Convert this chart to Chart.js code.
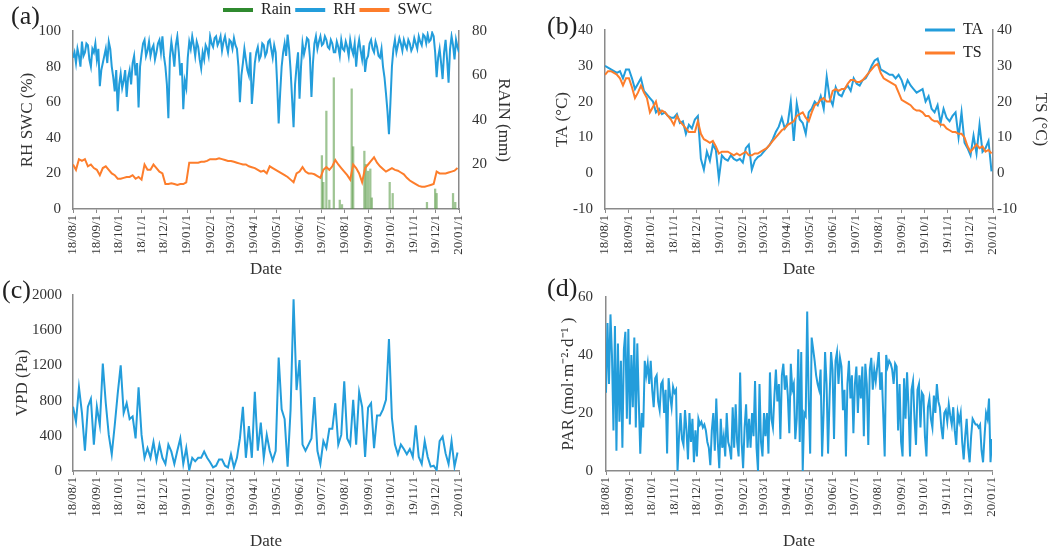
<!DOCTYPE html>
<html>
<head>
<meta charset="utf-8">
<script src="https://cdn.jsdelivr.net/npm/chart.js@4.4.1/dist/chart.umd.min.js"></script>
<style>
  body { margin: 0; background: #fff; width: 1052px; height: 551px; overflow: hidden; position: relative; }
  .panel { position: absolute; }
</style>
</head>
<body>
<div class="panel" style="left:0;top:0;width:530px;height:281px"><canvas id="chartA"></canvas></div>
<div class="panel" style="left:530px;top:0;width:522px;height:281px"><canvas id="chartB"></canvas></div>
<div class="panel" style="left:0;top:275px;width:530px;height:276px"><canvas id="chartC"></canvas></div>
<div class="panel" style="left:530px;top:275px;width:522px;height:276px"><canvas id="chartD"></canvas></div>
<script>
// month ticks on the date axis
var tickLabels = ['18/08/1', '18/09/1', '18/10/1', '18/11/1', '18/12/1', '19/01/1', '19/02/1', '19/03/1', '19/04/1',
  '19/05/1', '19/06/1', '19/07/1', '19/08/1', '19/09/1', '19/10/1', '19/11/1', '19/12/1', '20/01/1'];

// RH and PAR jump a lot from day to day, read every 2 days from 18/08/1
var fineStep = 2;
var rh = [85, 88, 82, 90, 86, 80, 94, 86, 88, 93, 92, 84, 80, 90, 88, 93, 84, 90, 69, 78,
  82, 86, 90, 82, 94, 90, 80, 74, 66, 78, 55, 70, 76, 68, 72, 78, 63, 74, 78, 70,
  82, 86, 75, 82, 57, 80, 87, 93, 95, 86, 89, 94, 86, 90, 92, 84, 88, 93, 95, 88,
  97, 86, 80, 70, 51, 85, 94, 88, 80, 92, 97, 88, 75, 82, 56, 72, 68, 85, 94, 90,
  97, 92, 86, 94, 91, 84, 79, 88, 84, 92, 90, 86, 97, 93, 91, 96, 97, 92, 94, 97,
  89, 94, 97, 92, 88, 95, 94, 90, 96, 92, 90, 80, 60, 75, 82, 90, 84, 78, 75, 88,
  59, 70, 82, 88, 91, 84, 86, 93, 92, 86, 88, 94, 95, 90, 85, 92, 88, 70, 48, 65,
  80, 88, 93, 86, 98, 90, 78, 62, 46, 70, 80, 88, 62, 80, 93, 87, 91, 96, 95, 85,
  63, 82, 93, 97, 90, 94, 97, 92, 93, 97, 95, 91, 90, 95, 93, 88, 88, 94, 91, 86,
  95, 90, 89, 94, 91, 86, 95, 90, 87, 93, 80, 90, 95, 89, 84, 92, 77, 84, 86, 93,
  95, 90, 88, 94, 91, 86, 85, 90, 80, 74, 65, 55, 42, 60, 80, 90, 95, 88, 92, 96,
  93, 89, 95, 92, 90, 95, 93, 89, 91, 96, 93, 90, 97, 94, 92, 98, 97, 93, 98, 94,
  95, 99, 97, 88, 74, 85, 90, 82, 73, 88, 95, 84, 71, 90, 97, 92, 84, 95, 91, 88];
var par = [27, 51, 30, 54, 40, 14, 50, 7, 44, 17, 38, 8, 42, 48, 18, 49, 16, 40, 22, 46,
  15, 44, 24, 6, 20, 15, 38, 33, 37, 30, 38, 28, 22, 32, 33, 24, 21, 30, 31, 20,
  28, 6, 32, 26, 22, 29, 27, 28, 0, 12, 20, 11, 9, 21, 14, 4, 20, 10, 18, 3,
  14, 5, 18, 16, 17, 15, 16, 14, 10, 8, 2, 14, 20, 7, 25, 10, 1, 18, 8, 12,
  5, 20, 10, 8, 4, 22, 8, 23, 10, 5, 34, 10, 1, 15, 23, 8, 18, 8, 20, 12,
  31, 8, 0, 30, 10, 5, 20, 12, 20, 6, 34, 18, 15, 26, 35, 24, 30, 11, 33, 37,
  28, 33, 26, 13, 37, 28, 30, 11, 18, 42, 10, 41, 0, 20, 19, 55, 25, 6, 46, 42,
  38, 33, 30, 28, 35, 5, 20, 41, 30, 6, 25, 41, 35, 11, 38, 41, 30, 39, 36, 21,
  28, 5, 30, 38, 25, 33, 13, 30, 36, 20, 33, 25, 36, 12, 37, 30, 9, 35, 39, 28,
  35, 31, 36, 41, 28, 34, 20, 5, 40, 36, 38, 37, 35, 30, 37, 36, 14, 30, 10, 5,
  32, 18, 34, 22, 5, 28, 31, 18, 9, 28, 30, 15, 27, 26, 12, 5, 22, 25, 18, 15,
  26, 20, 30, 24, 22, 15, 11, 20, 21, 17, 23, 19, 16, 22, 14, 9, 20, 17, 20, 10,
  4, 12, 18, 8, 3, 12, 18, 17, 16, 16, 15, 16, 7, 3, 12, 20, 18, 25, 3, 11];

// the smoother records, read every 4 days
var step = 4;
var swc = [25, 22, 28, 27, 28, 24, 25, 23, 22, 19, 23, 24, 22, 20, 19, 17, 17, 17.5, 18, 18,
  19, 17, 18, 16.5, 25, 22, 22, 25, 23, 21, 20, 14, 14, 14.5, 14, 13.5, 14, 14, 15, 26,
  26, 26, 26, 26.5, 26.5, 27, 28, 28, 28, 28.5, 28, 27.5, 27, 27, 26.5, 26, 25.5, 25, 25, 24,
  23.5, 23, 22, 21, 21.5, 20, 24, 23, 22, 21, 20, 19, 18, 16.5, 15, 20, 21, 23.5, 21, 20,
  20, 19.5, 18.5, 17.5, 22, 23.5, 22, 24, 27.5, 25, 23, 21, 19, 16.5, 25, 23, 20, 15, 23, 25,
  27, 29, 26, 24, 22.5, 21, 22, 23, 22, 21.5, 20.5, 19.5, 17.5, 16, 15, 14, 13, 12.5, 12.5, 13,
  13.5, 14, 21, 20, 20, 20, 20.5, 21, 21.5, 23];
var ta = [30, 29.5, 29, 28.5, 28, 28.5, 26.5, 29, 29, 26.5, 23.5, 25, 26.5, 23, 22, 21, 20, 17, 18, 16.5,
  17, 16, 15.5, 15.5, 16.5, 14, 14.5, 11, 13.5, 12.5, 15, 16, 4, 1, 6, 3.5, 8, 6.5, -1.5, 5,
  4, 3.5, 5, 4, 3.5, 4, 3, 7, 8, 1, 3.5, 4.5, 5, 6, 7, 8, 9.5, 11.5, 13, 15.5,
  12.5, 14, 20, 9, 19.5, 15, 14, 11, 17, 18, 20, 19, 21.5, 18, 27, 21, 19, 24, 22, 21.5,
  23.5, 24.5, 23, 26.5, 25, 24.5, 26, 26.5, 28, 30, 31.5, 32, 29, 28.5, 28, 27.5, 27.5, 26.5, 27.5, 26,
  23.5, 26, 24.5, 23.5, 22.5, 23, 23.5, 20, 21.5, 18, 17, 19, 14, 18, 15.5, 14.5, 16, 17, 10, 17,
  8.5, 7, 5, 10.5, 5.5, 13.5, 6, 7, 9, 0.5];
var ts = [27.5, 28.5, 28.5, 28, 27.5, 26.5, 24.5, 26.5, 26.5, 24, 21, 22.5, 24.5, 22.5, 21, 17, 18.5, 20, 16.5, 17.5,
  17, 16, 15, 13.5, 16, 14.5, 13.5, 12.5, 11.5, 11.5, 11.5, 14.5, 11, 9.5, 9, 8.5, 9, 7.5, 5.5, 6,
  6, 6, 5.5, 5, 5.5, 5, 5.5, 6, 5, 5, 5.5, 5.5, 6, 6.5, 7, 8, 9, 10, 11, 12,
  12.5, 13.5, 14, 14.5, 16, 16.5, 17, 15.5, 14.5, 17, 19, 19.5, 20.5, 21, 20, 20, 23, 23.5, 23, 23.5,
  23.5, 25, 26, 26, 25.5, 25.5, 26, 27, 28, 29, 30, 30.5, 28, 26.5, 26, 25.5, 25, 24.5, 22.5, 20.5,
  20, 19.5, 19, 18, 17.5, 17.5, 17, 16, 16, 15, 14.5, 14.5, 13.5, 13.5, 12.5, 12, 11.5, 11.5, 11, 11,
  10, 7.5, 6, 7, 8, 7, 7.5, 6, 6.5, 5.5];
var vpd = [730, 560, 950, 660, 230, 730, 820, 300, 730, 520, 1220, 770, 410, 190, 520, 880, 1200, 660, 770, 590,
  620, 370, 950, 410, 150, 260, 150, 330, 120, 300, 150, 80, 300, 220, 80, 230, 370, 80, 260, 10,
  150, 110, 150, 150, 220, 150, 100, 40, 60, 130, 130, 60, 40, 190, 40, 150, 370, 730, 150, 510,
  150, 900, 230, 550, 150, 410, 230, 120, 230, 1290, 700, 590, 50, 700, 1950, 920, 1260, 300, 230, 300,
  370, 840, 230, 80, 340, 260, 480, 480, 770, 300, 410, 1020, 370, 300, 810, 300, 900, 730, 160, 720,
  770, 260, 630, 630, 700, 810, 1500, 600, 300, 190, 300, 250, 190, 250, 160, 520, 160, 80, 340, 160,
  50, 60, 10, 340, 390, 200, 80, 340, 50, 210];

// rain events: day after 18/08/1 and amount (mm)
var rainDay = [334, 336, 340, 344, 350, 358, 361, 374, 376, 391, 393, 396, 399, 401, 425, 429, 475, 486, 488, 510, 513];
var rainMm = [24, 12, 44, 4, 59, 4, 2, 54, 28, 26, 20, 17, 18, 5, 12, 7, 3, 9, 7, 7, 3];

var blue = '#239ddb';
var orange = '#fd7d2b';
var green = 'rgba(80,150,60,0.55)';
var axisGrey = '#8a8a8a';

Chart.defaults.font.family = '"Liberation Serif", "Times New Roman", serif';
Chart.defaults.color = '#333';
Chart.defaults.animation = false;

var t0 = Date.UTC(2018, 7, 1);
var tickDays = tickLabels.map(function(t) {
  var p = t.split('/');
  return Math.round((Date.UTC(2000 + Number(p[0]), Number(p[1]) - 1, Number(p[2])) - t0) / 86400000);
});

function pts(vals, every) {
  return vals.map(function(v, i) { return { x: i * every, y: v }; });
}

// panel letter + moving the legend to where the original has it
var panelBits = {
  id: 'panelBits',
  afterLayout: function(chart, args, opts) {
    var lg = chart.legend;
    if (lg && opts.legendX !== undefined) {
      var w = lg.width, h = lg.height;
      lg.left = opts.legendX;
      lg.top = opts.legendY;
      lg.right = lg.left + w;
      lg.bottom = lg.top + h;
    }
  },
  afterDraw: function(chart, args, opts) {
    var ctx = chart.ctx;
    ctx.save();
    ctx.font = '26px "Liberation Serif", serif';
    ctx.fillStyle = '#222';
    ctx.textBaseline = 'middle';
    ctx.fillText(opts.tag, opts.tagX, opts.tagY);
    ctx.restore();
  }
};

function xAxis(h, titlePad) {
  return {
    type: 'linear',
    min: 0,
    max: 518,
    offset: false,
    afterBuildTicks: function(s) {
      s.ticks = tickDays.map(function(d) { return { value: d }; });
    },
    afterFit: function(s) { s.height = h; },
    ticks: {
      autoSkip: false, minRotation: 90, maxRotation: 90, padding: 2, font: { size: 13 },
      callback: function(v) {
        var i = tickDays.indexOf(v);
        return i < 0 ? '' : tickLabels[i];
      }
    },
    grid: { drawOnChartArea: false, offset: false, tickLength: 4, color: axisGrey },
    border: { color: axisGrey, width: 1.5 },
    title: { display: true, text: 'Date', font: { size: 17, lineHeight: 1 }, padding: { top: 0, bottom: titlePad } }
  };
}

function yAxis(pos, min, max, stepSize, title, w, titlePad, labelPad) {
  return {
    type: 'linear',
    position: pos,
    min: min,
    max: max,
    afterFit: function(s) { s.width = w; },
    ticks: {
      stepSize: stepSize, padding: labelPad, font: { size: 15 },
      callback: function(v) { return String(v); }
    },
    grid: { drawOnChartArea: false, drawTicks: false },
    border: { color: axisGrey, width: 1.5 },
    title: { display: true, text: title, font: { size: 17 }, padding: { top: titlePad, bottom: 0 } }
  };
}

function legendLabels(chart) {
  var items = Chart.defaults.plugins.legend.labels.generateLabels(chart);
  items.forEach(function(it) {
    it.lineWidth = 0;
    if (it.text === 'Rain') it.fillStyle = '#2f8a2f';
  });
  return items;
}

function lineSet(label, data, color, order, axis) {
  return {
    type: 'line', label: label, data: data, yAxisID: axis || 'y', order: order,
    borderColor: color, backgroundColor: color, borderWidth: 2,
    pointRadius: 0, tension: 0, fill: false
  };
}

// (a) RH, SWC and rain
var scalesA = { x: xAxis(72, 2.5), y: yAxis('left', 0, 100, 20, 'RH SWC (%)', 73, 17, 12), yR: yAxis('right', 0, 80, 20, 'RAIN (mm)', 71, 16, 13) };
scalesA.yR.ticks.callback = function(v) { return v === 0 ? '' : String(v); };

new Chart(document.getElementById('chartA'), {
  type: 'line',
  data: {
    datasets: [
      {
        type: 'bar', label: 'Rain', yAxisID: 'yR', order: 3,
        data: rainDay.map(function(d, i) { return { x: d, y: rainMm[i] }; }),
        backgroundColor: green, borderWidth: 0, barThickness: 1.6
      },
      lineSet('RH', pts(rh, fineStep), blue, 2),
      lineSet('SWC', pts(swc, step), orange, 1)
    ]
  },
  options: {
    responsive: true, maintainAspectRatio: false,
    layout: { padding: { top: 1, left: 0, right: 0, bottom: 0 } },
    scales: scalesA,
    plugins: {
      legend: {
        position: 'top', align: 'start',
        labels: { font: { size: 16 }, boxWidth: 30, boxHeight: 4, padding: 4, color: '#222',
          generateLabels: legendLabels, sort: function(a, b) { return a.datasetIndex - b.datasetIndex; } }
      },
      tooltip: { enabled: false },
      panelBits: { tag: '(a)', tagX: 11, tagY: 17, legendX: 219, legendY: -2 }
    }
  },
  plugins: [panelBits]
});

// (b) air and soil temperature
new Chart(document.getElementById('chartB'), {
  type: 'line',
  data: {
    datasets: [
      lineSet('TA', pts(ta, step), blue, 2, 'y'),
      lineSet('TS', pts(ts, step), orange, 1, 'yR')
    ]
  },
  options: {
    responsive: true, maintainAspectRatio: false,
    layout: { padding: { top: 30, left: 0, right: 0, bottom: 0 } },
    scales: {
      x: xAxis(72, 2.5),
      y: yAxis('left', -10, 40, 10, 'TA (°C)', 75, 22, 12),
      yR: yAxis('right', -10, 40, 10, 'TS (°C)', 59, 1, 4)
    },
    plugins: {
      legend: {
        position: 'chartArea', align: 'start',
        labels: { font: { size: 16 }, boxWidth: 30, boxHeight: 3, padding: 7, color: '#222',
          generateLabels: legendLabels, sort: function(a, b) { return a.datasetIndex - b.datasetIndex; } }
      },
      tooltip: { enabled: false },
      panelBits: { tag: '(b)', tagX: 17, tagY: 27, legendX: 388, legendY: 15 }
    }
  },
  plugins: [panelBits]
});

// (c) VPD
new Chart(document.getElementById('chartC'), {
  type: 'line',
  data: { datasets: [lineSet('VPD', pts(vpd, step), blue, 1)] },
  options: {
    responsive: true, maintainAspectRatio: false,
    layout: { padding: { top: 12, left: 0, right: 71, bottom: 0 } },
    scales: { x: xAxis(80, 0.5), y: yAxis('left', 0, 2000, 400, 'VPD (Pa)', 73, 12, 11) },
    plugins: {
      legend: { display: false },
      tooltip: { enabled: false },
      panelBits: { tag: '(c)', tagX: 2, tagY: 16 }
    }
  },
  plugins: [panelBits]
});

// (d) PAR
new Chart(document.getElementById('chartD'), {
  type: 'line',
  data: { datasets: [lineSet('PAR', pts(par, fineStep), blue, 1)] },
  options: {
    responsive: true, maintainAspectRatio: false,
    layout: { padding: { top: 14, left: 0, right: 60, bottom: 0 } },
    scales: { x: xAxis(80, 0.5), y: yAxis('left', 0, 60, 20, 'PAR (mol·m⁻²·d⁻¹ )', 76, 28, 13) },
    plugins: {
      legend: { display: false },
      tooltip: { enabled: false },
      panelBits: { tag: '(d)', tagX: 17, tagY: 14 }
    }
  },
  plugins: [panelBits]
});
</script>
</body>
</html>
